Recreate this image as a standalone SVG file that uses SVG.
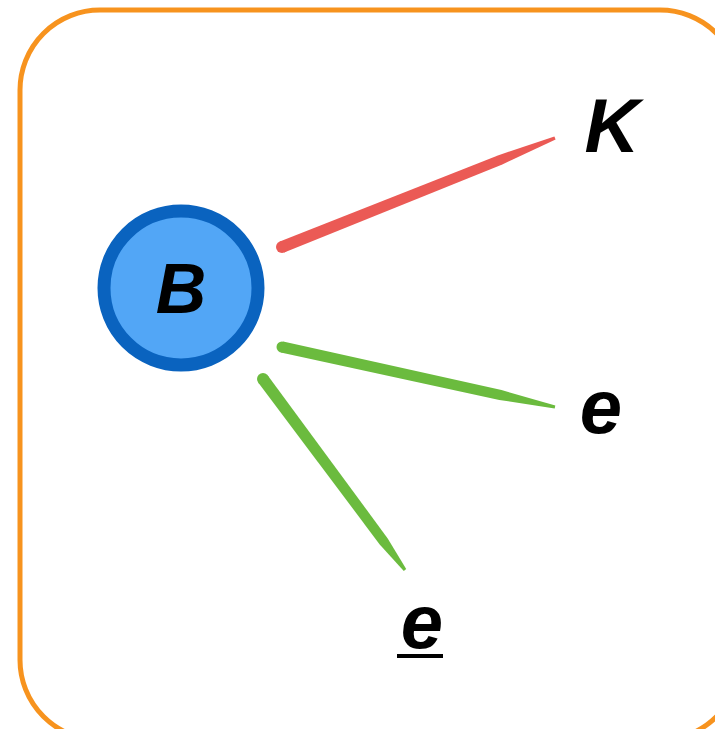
<svg xmlns="http://www.w3.org/2000/svg" width="715" height="729" viewBox="0 0 715 729">
<style>
.lbl{font-family:"Liberation Sans",Arial,sans-serif;font-weight:bold;font-style:italic;fill:#000;text-anchor:middle}
</style>
<rect x="0" y="0" width="715" height="729" fill="#fff"/>
<rect id="frame" x="20" y="10" width="720" height="730" rx="80" ry="80" fill="none" stroke="#F7931E" stroke-width="5"/>
<g id="connectors">
<g fill="#EB5A55">
<polygon points="284.2,252.6 502.3,164.4 555.6,139.4 554.4,136.6 498.5,155.2 279.8,241.4"/>
<circle cx="282" cy="247" r="6"/>
</g>
<g fill="#6BBB3E">
<polygon points="280.8,352.4 499.3,399.9 554.7,408.5 555.3,405.5 501.5,390.1 283.2,341.6"/>
<circle cx="282" cy="347" r="5.5"/>
<polygon points="258.2,382.6 379.7,544.4 403.8,570.9 406.2,569.1 387.7,538.4 267.8,375.4"/>
<circle cx="263" cy="379" r="6"/>
</g>
</g>
<g id="node-B">
<circle cx="181" cy="288" r="77" fill="#52A6F6" stroke="#0A63BF" stroke-width="13"/>
<text class="lbl" x="181" y="313" font-size="70">B</text>
</g>
<g id="node-K">
<text class="lbl" x="612" y="152" font-size="76">K</text>
</g>
<g id="node-e1">
<text class="lbl" x="601" y="433" font-size="76">e</text>
</g>
<g id="node-e2">
<text class="lbl" x="422" y="648" font-size="76">e</text>
<line x1="397" y1="656" x2="443" y2="656" stroke="#000" stroke-width="4"/>
</g>
</svg>
